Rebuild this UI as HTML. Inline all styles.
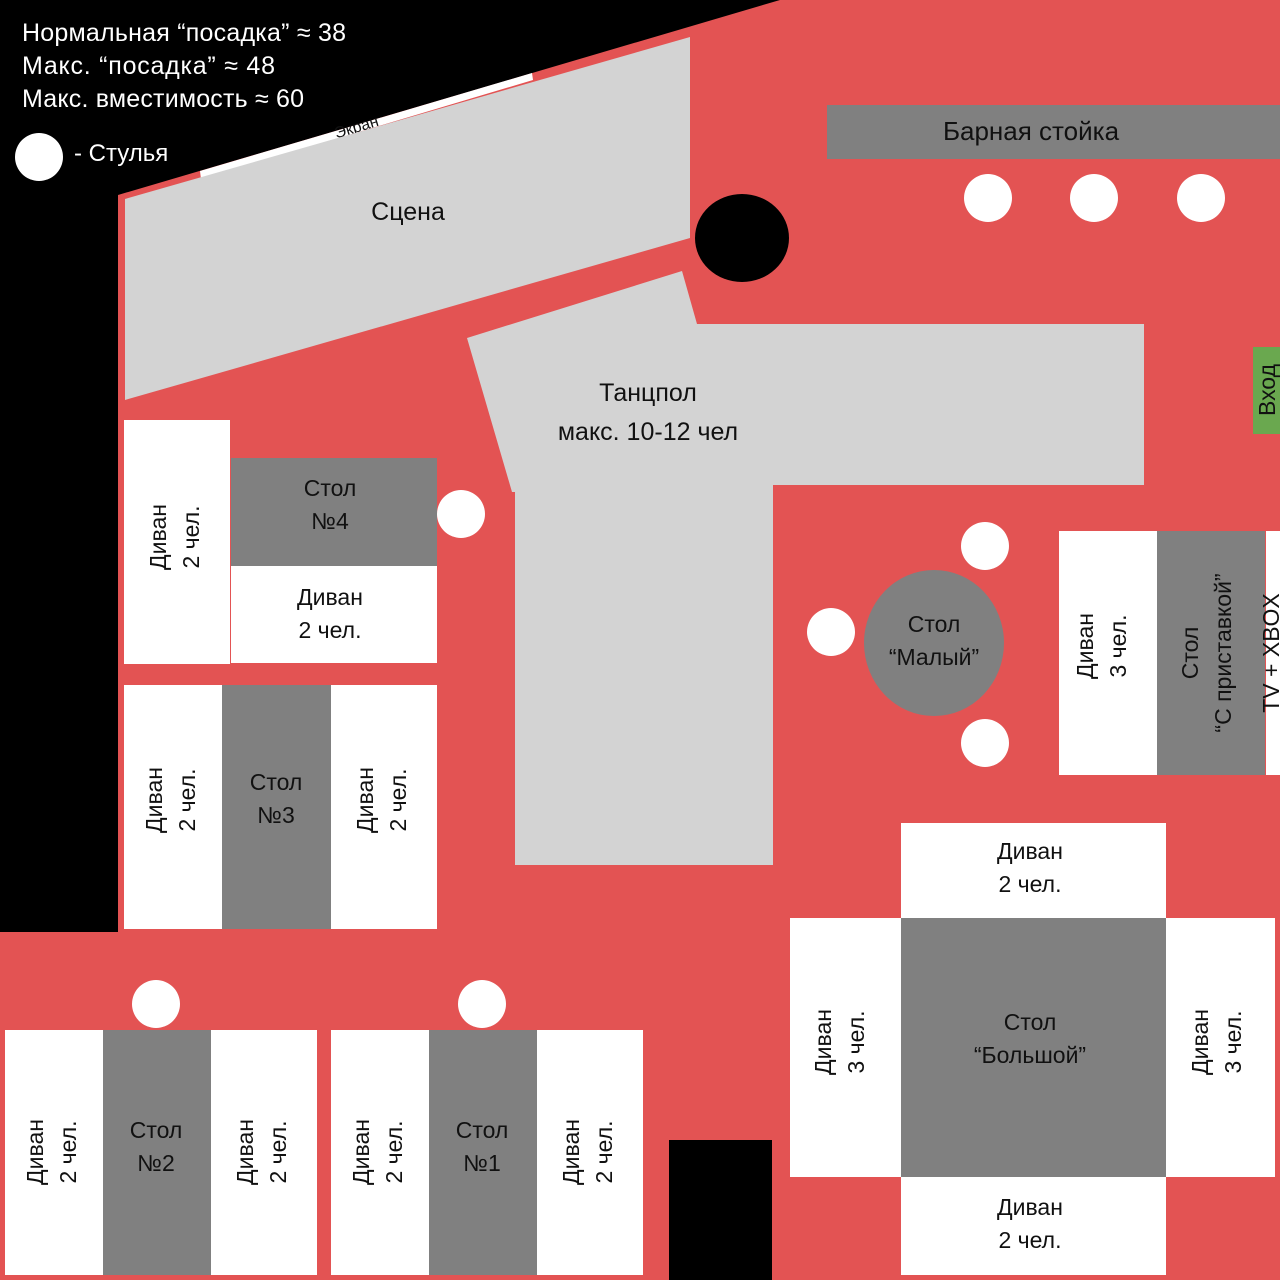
<!DOCTYPE html>
<html><head><meta charset="utf-8"><style>
html,body{margin:0;padding:0;background:#e35353;}
svg{display:block}
text{font-family:"Liberation Sans","DejaVu Sans",sans-serif;font-size:23px;fill:#111}
</style></head><body>
<svg width="1280" height="1280" viewBox="0 0 1280 1280" xmlns="http://www.w3.org/2000/svg">
<rect width="1280" height="1280" fill="#e35353"/>
<polygon points="0,0 780,0 118,195 118,932 0,932" fill="#000"/>
<polygon points="200,171 532,73 533,80 201,179" fill="#fff"/>
<text x="358" y="132" fill="#000" transform="rotate(-17 358 132)" text-anchor="middle" style="font-size:16px">Экран</text>
<polygon points="125,199 690,37 690,238 125,400" fill="#d3d3d3"/>
<text x="408" y="220" text-anchor="middle" style="font-size:25px">Сцена</text>
<ellipse cx="742" cy="238" rx="47" ry="44" fill="#000"/>
<polygon points="467,338 682,271 697,324 1144,324 1144,485 773,485 773,865 515,865 515,492 512,492" fill="#d3d3d3"/>
<text x="648" y="401" text-anchor="middle" style="font-size:25px">Танцпол</text>
<text x="648" y="440" text-anchor="middle" style="font-size:25px">макс. 10-12 чел</text>
<g style="font-size:25px">
<text x="22" y="41" style="fill:#fff;font-size:25px" textLength="324">Нормальная “посадка” ≈ 38</text>
<text x="22" y="74" style="fill:#fff;font-size:25px" textLength="253">Макс. “посадка”  ≈ 48</text>
<text x="22" y="107" style="fill:#fff;font-size:25px" textLength="282">Макс. вместимость ≈ 60</text>
<text x="74" y="161" style="fill:#fff;font-size:24px">- Стулья</text>
</g>
<circle cx="39" cy="157" r="24" fill="#fff"/>
<rect x="827" y="105" width="453" height="54" fill="#808080"/>
<text x="1031" y="140" text-anchor="middle" style="font-size:26px">Барная стойка</text>
<g fill="#fff">
<circle cx="988" cy="198" r="24"/><circle cx="1094" cy="198" r="24"/><circle cx="1201" cy="198" r="24"/>
<circle cx="461" cy="514" r="24"/><circle cx="156" cy="1004" r="24"/><circle cx="482" cy="1004" r="24"/>
<circle cx="985" cy="546" r="24"/><circle cx="831" cy="632" r="24"/><circle cx="985" cy="743" r="24"/>
</g>
<rect x="1253" y="347" width="27" height="87" fill="#6aa84f"/>
<text transform="translate(1275 390) rotate(-90)" text-anchor="middle">Вход</text>

<rect x="124" y="420" width="106" height="244" fill="#fff"/>
<rect x="231" y="458" width="206" height="108" fill="#808080"/>
<rect x="231" y="566" width="206" height="97" fill="#fff"/>
<rect x="124" y="685" width="98" height="244" fill="#fff"/>
<rect x="222" y="685" width="109" height="244" fill="#808080"/>
<rect x="331" y="685" width="106" height="244" fill="#fff"/>
<rect x="5" y="1030" width="98" height="245" fill="#fff"/>
<rect x="103" y="1030" width="108" height="245" fill="#808080"/>
<rect x="211" y="1030" width="106" height="245" fill="#fff"/>
<rect x="331" y="1030" width="98" height="245" fill="#fff"/>
<rect x="429" y="1030" width="108" height="245" fill="#808080"/>
<rect x="537" y="1030" width="106" height="245" fill="#fff"/>
<rect x="669" y="1140" width="103" height="140" fill="#000"/>

<rect x="901" y="823" width="265" height="95" fill="#fff"/>
<rect x="790" y="918" width="111" height="259" fill="#fff"/>
<rect x="901" y="918" width="265" height="259" fill="#808080"/>
<rect x="1166" y="918" width="109" height="259" fill="#fff"/>
<rect x="901" y="1177" width="265" height="98" fill="#fff"/>

<ellipse cx="934" cy="643" rx="70" ry="73" fill="#808080"/>
<rect x="1059" y="531" width="98" height="244" fill="#fff"/>
<rect x="1157" y="531" width="108" height="244" fill="#808080"/>
<rect x="1266" y="531" width="14" height="244" fill="#fff"/>

<g text-anchor="middle">
<text x="330" y="496">Стол</text><text x="330" y="529">№4</text>
<text x="330" y="605">Диван</text><text x="330" y="638">2 чел.</text>
<text x="276" y="790">Стол</text><text x="276" y="823">№3</text>
<text x="156" y="1138">Стол</text><text x="156" y="1171">№2</text>
<text x="482" y="1138">Стол</text><text x="482" y="1171">№1</text>
<text x="1030" y="859">Диван</text><text x="1030" y="892">2 чел.</text>
<text x="1030" y="1030">Стол</text><text x="1030" y="1063">“Большой”</text>
<text x="1030" y="1215">Диван</text><text x="1030" y="1248">2 чел.</text>
<text x="934" y="632">Стол</text><text x="934" y="665">“Малый”</text>
</g>
<g text-anchor="middle">
<g transform="translate(170 537) rotate(-90)"><text y="-4">Диван</text><text y="29">2 чел.</text></g>
<g transform="translate(166 800) rotate(-90)"><text y="-4">Диван</text><text y="29">2 чел.</text></g>
<g transform="translate(377 800) rotate(-90)"><text y="-4">Диван</text><text y="29">2 чел.</text></g>
<g transform="translate(47 1152) rotate(-90)"><text y="-4">Диван</text><text y="29">2 чел.</text></g>
<g transform="translate(257 1152) rotate(-90)"><text y="-4">Диван</text><text y="29">2 чел.</text></g>
<g transform="translate(373 1152) rotate(-90)"><text y="-4">Диван</text><text y="29">2 чел.</text></g>
<g transform="translate(583 1152) rotate(-90)"><text y="-4">Диван</text><text y="29">2 чел.</text></g>
<g transform="translate(835 1042) rotate(-90)"><text y="-4">Диван</text><text y="29">3 чел.</text></g>
<g transform="translate(1212 1042) rotate(-90)"><text y="-4">Диван</text><text y="29">3 чел.</text></g>
<g transform="translate(1097 646) rotate(-90)"><text y="-4">Диван</text><text y="29">3 чел.</text></g>
<g transform="translate(1202 653) rotate(-90)"><text y="-4">Стол</text><text y="29">“С приставкой”</text></g>
<g transform="translate(1279 653) rotate(-90)"><text y="0">TV + XBOX</text></g>
</g>
</svg>
</body></html>
